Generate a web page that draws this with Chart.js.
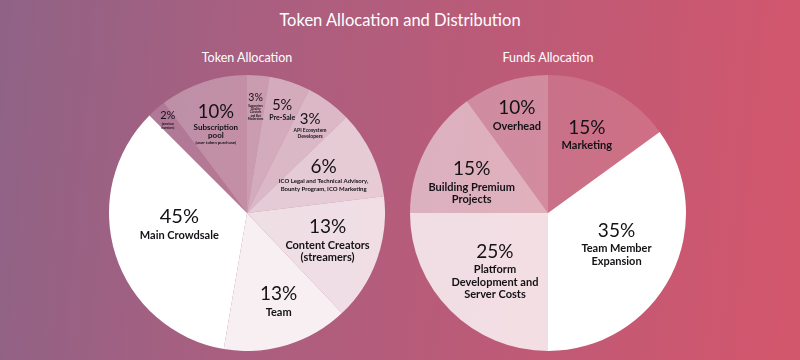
<!DOCTYPE html>
<html>
<head>
<meta charset="utf-8">
<title>Token Allocation and Distribution</title>
<script src="https://cdn.jsdelivr.net/npm/chart.js@4.4.1/dist/chart.umd.min.js"></script>
<style>
    html, body {
        margin: 0;
        padding: 0;
    }
    body {
        width: 800px;
        height: 360px;
        overflow: hidden;
        position: relative;
        font-family: Lato, "Open Sans", sans-serif;
        background: linear-gradient(95deg, #8f6386 0%, #a95f80 30%, #bb5b78 60%, #d3566c 100%);
    }
    .heading {
        position: absolute;
        left: 0;
        width: 800px;
        text-align: center;
        color: #fff;
        line-height: 20px;
    }
    .sub {
        position: absolute;
        width: 276px;
        text-align: center;
        color: #fff;
        font-size: 12.5px;
        line-height: 16px;
    }
    .pie {
        position: absolute;
        top: 75px;
        width: 276px;
        height: 276px;
    }
</style>
</head>
<body>
<div class="heading" style="top:10px;font-size:16.5px;">Token Allocation and Distribution</div>
<div class="sub" style="left:109px;top:50px;">Token Allocation</div>
<div class="sub" style="left:410px;top:50px;">Funds Allocation</div>
<div class="pie" style="left:109px;"><canvas id="tokenPie" width="276" height="276"></canvas></div>
<div class="pie" style="left:410px;"><canvas id="fundsPie" width="276" height="276"></canvas></div>

<script>
// Token Allocation – clockwise from 12 o'clock
const tokenPercents = ["3%", "5%", "3%", "6%", "13%", "13%", "45%", "2%", "10%"];
const tokenLabels = [
    ["Supporters", "Quality", "Curators", "and Bot", "Moderators"],
    ["Pre-Sale"],
    ["API Ecosystem", "Developers"],
    ["ICO Legal and Technical Advisory,", "Bounty Program, ICO Marketing"],
    ["Content Creators", "(streamers)"],
    ["Team"],
    ["Main Crowdsale"],
    ["(previous", "investors)"],
    ["Subscription", "pool"]
];
const tokenNotes = ["", "", "", "", "", "", "", "", "(user token purchase)"];
// slice sizes as drawn in the picture (degrees, the source art is not to scale)
const tokenShares = [9.4, 17.4, 19.2, 37, 53.5, 53.2, 125.3, 8, 37];

// Funds Allocation – clockwise from 12 o'clock
const fundsPercents = ["15%", "35%", "25%", "15%", "10%"];
const fundsLabels = [
    ["Marketing"],
    ["Team Member", "Expansion"],
    ["Platform", "Development and", "Server Costs"],
    ["Building Premium", "Projects"],
    ["Overhead"]
];
const fundsShares = [15, 35, 25, 15, 10];

// styles
const tokenColors = [0.38, 0.48, 0.56, 0.68, 0.8, 0.9, 1, 0.16, 0.3].map(a => "rgba(255,255,255," + a + ")");
const fundsColors = [0.14, 1, 0.8, 0.52, 0.3].map(a => "rgba(255,255,255," + a + ")");
// [percent size, label size, line height]
const tokenSizes = [[10.5, 3, 3.3], [14.5, 7, 8], [15, 5, 5.5], [19, 6, 8], [19, 11, 12], [19, 11, 12], [20, 11, 12], [11, 3, 4], [18.5, 8, 8.4]];
const fundsSizes = [[19, 11, 12.3], [19, 11, 12.3], [19, 11, 12.3], [19, 11, 12.3], [19, 11, 12.3]];
// label placement along the slice: fraction of radius, extra turn in degrees
const tokenPlace = [[0.76, 0], [0.78, 1], [0.77, 0], [0.61, 1], [0.62, 0], [0.69, -2.5], [0.5, 6.5], [0.875, 0], [0.66, -1.5]];
const fundsPlace = [[0.62, 0], [0.55, -1.5], [0.58, -3.5], [0.59, -6.5], [0.73, 0]];

const sliceText = {
    id: "sliceText",
    afterDatasetsDraw(chart, args, opts) {
        const ctx = chart.ctx;
        const arcs = chart.getDatasetMeta(0).data;
        arcs.forEach((arc, i) => {
            const p = arc.getProps(["x", "y", "startAngle", "endAngle", "outerRadius"], true);
            const mid = (p.startAngle + p.endAngle) / 2 + opts.place[i][1] * Math.PI / 180;
            const d = p.outerRadius * opts.place[i][0];
            const cx = p.x + Math.cos(mid) * d;
            const cy = p.y + Math.sin(mid) * d;
            const [ps, ls, lh] = opts.sizes[i];
            const lines = opts.labels[i];
            const note = opts.notes ? opts.notes[i] : "";
            const gap = ls * 0.3;
            let span = ps / 2 + gap + ls / 2 + (lines.length - 1) * lh;
            if (note) span += lh * 0.85;
            const py = cy - span / 2;

            ctx.save();
            ctx.fillStyle = "#141216";
            ctx.textAlign = "center";
            ctx.textBaseline = "middle";
            ctx.font = "400 " + ps + "px Lato";
            ctx.fillText(opts.percents[i], cx, py);
            ctx.font = "700 " + ls + "px Lato";
            let ly = py + ps / 2 + gap + ls / 2;
            lines.forEach((t, k) => ctx.fillText(t, cx, ly + k * lh));
            if (note) {
                ctx.font = "700 4.3px Lato";
                ctx.fillText(note, cx, ly + (lines.length - 1) * lh + lh * 0.85);
            }
            ctx.restore();
        });
    }
};

function makePie(id, shares, colors, text) {
    const ctx = document.getElementById(id);
    if (!ctx || typeof Chart === "undefined") return;

    new Chart(ctx, {
        type: "pie",
        data: {
            labels: text.percents,
            datasets: [{
                data: shares,
                backgroundColor: colors,
                borderWidth: 0,
                hoverOffset: 0,
                offset: 0
            }]
        },
        options: {
            responsive: false,
            animation: false,
            events: [],
            layout: {padding: 0},
            plugins: {
                legend: {display: false},
                tooltip: {enabled: false},
                sliceText: text
            }
        },
        plugins: [sliceText]
    });
}

makePie("tokenPie", tokenShares, tokenColors, {
    percents: tokenPercents,
    labels: tokenLabels,
    notes: tokenNotes,
    sizes: tokenSizes,
    place: tokenPlace
});

makePie("fundsPie", fundsShares, fundsColors, {
    percents: fundsPercents,
    labels: fundsLabels,
    notes: null,
    sizes: fundsSizes,
    place: fundsPlace
});
</script>
</body>
</html>
